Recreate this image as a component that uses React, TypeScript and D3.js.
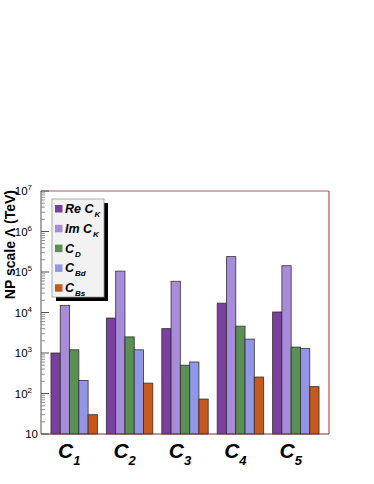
import React from "react";
import * as d3 from "d3";

const categories = ["1", "2", "3", "4", "5"];
const seriesNames = ["Re C", "Im C", "C", "C", "C"];
const seriesSubs = ["K", "K", "D", "Bd", "Bs"];
const seriesColors = ["#7b3fa0", "#a88cdc", "#5a9150", "#9196e8", "#c9581a"];
const reCK = [1000, 7300, 4000, 17000, 10300];
const imCK = [15000, 105000, 59000, 240000, 143000];
const cD = [1200, 2500, 500, 4600, 1400];
const cBd = [210, 1200, 600, 2200, 1300];
const cBs = [30, 180, 73, 255, 148];
const yTicks = [10, 100, 1000, 10000, 100000, 1000000, 10000000];
const yExps = ["", "2", "3", "4", "5", "6", "7"];

const series = [reCK, imCK, cD, cBd, cBs];

export default function App() {
  const W = 374, H = 484;
  const left = 41, right = 329, top = 191, bottom = 434;
  const x = d3.scaleBand<string>().domain(categories).range([left, right]).paddingInner(0.162).paddingOuter(0.18);
  const xi = d3.scaleBand<number>().domain(d3.range(series.length)).range([0, x.bandwidth()]);
  const y = d3.scaleLog().domain([10, 1e7]).range([bottom, top]);
  const minor: number[] = [];
  for (let e = 1; e < 7; e++) for (let m = 2; m <= 9; m++) minor.push(m * Math.pow(10, e));
  const font = "'Liberation Sans', Arial, Helvetica, sans-serif";
  return (
    <svg width={W} height={H} style={{ position: "absolute", left: 0, top: 0 }} fontFamily={font}>
      <rect x={0} y={0} width={W} height={H} fill="#fff" />
      {categories.map((c, ci) =>
        series.map((s, si) => (
          <rect key={c + si} x={(x(c) as number) + (xi(si) as number)} y={y(s[ci])} width={xi.bandwidth()} height={bottom - y(s[ci])}
            fill={seriesColors[si]} stroke="#2a2a2a" strokeWidth={0.9} strokeOpacity={0.85} />
        ))
      )}
      {/* frame */}
      <line x1={left} x2={right} y1={top} y2={top} stroke="#a06060" strokeWidth={1.2} />
      <line x1={right} x2={right} y1={top} y2={bottom} stroke="#d06a6a" strokeWidth={1.5} />
      <line x1={left} x2={right} y1={bottom} y2={bottom} stroke="#7a3030" strokeWidth={1.2} />
      <line x1={left} x2={left} y1={top} y2={bottom} stroke="#555" strokeWidth={1} />
      {yTicks.map((t) => (
        <line key={"M" + t} x1={left} x2={left + 8} y1={y(t)} y2={y(t)} stroke="#555" strokeWidth={1} />
      ))}
      {minor.map((t) => (
        <line key={"m" + t} x1={left} x2={left + 4} y1={y(t)} y2={y(t)} stroke="#777" strokeWidth={0.8} />
      ))}
      {yTicks.map((t, i) => (
        <text key={"l" + t} x={yExps[i] ? 32 : 38} y={y(t) + 4} textAnchor="end" fontSize={11.5} fill="#000">
          10
          {yExps[i] && <tspan dy={-5} fontSize={8}>{yExps[i]}</tspan>}
        </text>
      ))}
      <text transform={`translate(15,${top - 1}) rotate(-90)`} textAnchor="end" fontSize={14} fontWeight="bold">NP scale Λ (TeV)</text>
      {categories.map((c) => (
        <text key={"x" + c} x={(x(c) as number) + x.bandwidth() / 2 - 5} y={458} textAnchor="middle" fontSize={21} fontWeight="bold" fontStyle="italic">
          C<tspan dy={7} fontSize={13}>{c}</tspan>
        </text>
      ))}
      {/* legend */}
      <rect x={56} y={203} width={52} height={98} fill="#000" />
      <rect x={52} y={199} width={52} height={98} fill="#f2f2f2" stroke="#999" strokeWidth={0.8} />
      {seriesNames.map((n, i) => (
        <g key={"lg" + i} transform={`translate(0,${209 + i * 19.8})`}>
          <rect x={55} y={-4} width={7.5} height={7.5} fill={seriesColors[i]} />
          <text x={65} y={4} fontSize={12.5} fontWeight="bold" fontStyle="italic">
            {n}<tspan dx={1} dy={4} fontSize={8}>{seriesSubs[i]}</tspan>
          </text>
        </g>
      ))}
    </svg>
  );
}
